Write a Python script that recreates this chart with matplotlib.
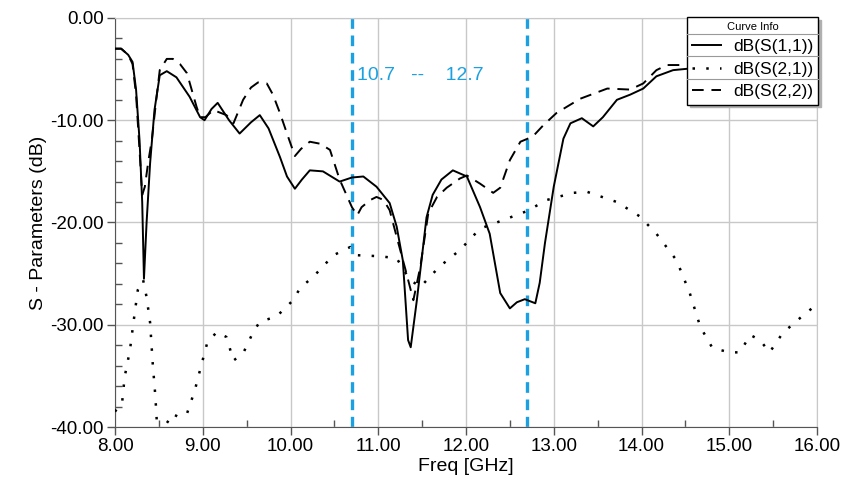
import matplotlib
matplotlib.use("Agg")
import matplotlib.pyplot as plt
from matplotlib.lines import Line2D
from matplotlib.ticker import MultipleLocator, FormatStrFormatter

plt.rcParams['font.family'] = ['Liberation Sans', 'DejaVu Sans']

# ---------------- data ----------------
f11 = [8.0, 8.07, 8.15, 8.2, 8.24, 8.28, 8.31, 8.33, 8.36, 8.4, 8.45, 8.51, 8.59, 8.7, 8.85,
       8.97, 9.02, 9.1, 9.17, 9.3, 9.42, 9.55, 9.65, 9.75, 9.88, 9.96, 10.05, 10.13, 10.22,
       10.37, 10.56, 10.7, 10.83, 10.98, 11.13, 11.21, 11.28, 11.34, 11.37, 11.44, 11.55,
       11.62, 11.72, 11.85, 12.01, 12.16, 12.27, 12.39, 12.5, 12.58, 12.67, 12.79, 12.84,
       12.9, 13.0, 13.11, 13.19, 13.32, 13.45, 13.56, 13.72, 13.87, 14.02, 14.17, 14.36,
       14.6, 15.0, 15.5, 16.0]
s11 = [-3.0, -3.0, -3.6, -4.3, -7.0, -12.0, -18.0, -25.5, -20.0, -14.2, -9.0, -5.6, -5.2,
       -5.8, -7.7, -9.7, -10.0, -8.9, -8.3, -10.0, -11.3, -10.2, -9.5, -10.8, -13.6, -15.5,
       -16.7, -15.8, -14.9, -15.0, -16.0, -15.6, -15.5, -16.5, -18.1, -20.4, -23.7, -31.5,
       -32.2, -27.6, -19.5, -17.3, -15.8, -14.9, -15.5, -18.5, -21.1, -26.9, -28.4, -27.8,
       -27.5, -27.9, -25.9, -22.0, -16.5, -11.8, -10.3, -9.8, -10.6, -9.7, -8.0, -7.5, -6.9,
       -5.7, -5.1, -4.9, -4.6, -4.3, -4.0]

f21 = [8.0, 8.04, 8.08, 8.11, 8.17, 8.21, 8.26, 8.32, 8.36, 8.40, 8.43, 8.46, 8.48, 8.52,
       8.6, 8.65, 8.72, 8.82, 8.91, 8.97, 9.05, 9.16, 9.27, 9.35, 9.46, 9.57, 9.65, 9.84,
       10.03, 10.11, 10.26, 10.49, 10.68, 10.76, 11.02, 11.21, 11.36, 11.48, 11.70, 11.93,
       12.16, 12.35, 12.69, 12.92, 13.22, 13.38, 13.72, 13.98, 14.17, 14.40, 14.55, 14.67,
       14.81, 15.01, 15.12, 15.24, 15.35, 15.46, 15.61, 15.84, 16.0]
s21 = [-38.5, -38.0, -37.7, -35.1, -32.5, -29.8, -26.6, -25.6, -27.3, -29.8, -33.8, -37.0,
       -40.0, -40.5, -39.5, -38.7, -39.0, -38.7, -36.4, -34.4, -31.8, -30.7, -31.2, -33.5,
       -32.8, -30.8, -29.7, -29.2, -27.6, -26.4, -25.3, -23.2, -22.4, -23.2, -23.3, -23.5,
       -25.6, -26.3, -24.3, -22.7, -20.6, -20.0, -18.9, -17.8, -17.1, -17.0, -18.0, -19.4,
       -21.1, -23.7, -26.9, -30.2, -32.3, -32.7, -32.7, -31.0, -31.5, -32.7, -30.8, -29.1,
       -28.0]

f22 = [8.0, 8.07, 8.15, 8.2, 8.24, 8.28, 8.31, 8.34, 8.38, 8.42, 8.47, 8.51, 8.59, 8.66,
       8.74, 8.82, 8.93, 8.97, 9.03, 9.12, 9.27, 9.35, 9.46, 9.55, 9.63, 9.73, 9.8, 9.88,
       9.96, 10.05, 10.12, 10.22, 10.34, 10.45, 10.56, 10.70, 10.76, 10.81, 10.91, 10.98,
       11.06, 11.13, 11.21, 11.31, 11.40, 11.48, 11.57, 11.67, 11.78, 11.93, 12.01, 12.16,
       12.31, 12.39, 12.50, 12.62, 12.76, 12.88, 13.03, 13.30, 13.61, 13.87, 14.02, 14.17,
       14.29, 14.52, 15.0, 15.5, 16.0]
s22 = [-3.0, -3.0, -3.6, -4.5, -7.5, -13.0, -17.3, -16.5, -14.0, -11.9, -8.0, -5.1, -4.0,
       -4.0, -4.5, -5.4, -8.7, -9.7, -9.7, -9.0, -9.5, -10.3, -8.0, -6.8, -6.3, -6.4, -7.5,
       -9.3, -11.3, -13.5, -12.8, -12.1, -12.3, -12.9, -15.8, -18.5, -19.3, -18.5, -17.8,
       -17.5, -17.8, -18.8, -21.4, -24.6, -27.6, -24.3, -19.1, -17.5, -16.6, -15.7, -15.4,
       -16.2, -17.1, -16.6, -13.9, -12.1, -11.6, -10.5, -9.3, -7.9, -6.9, -7.0, -6.4, -5.1,
       -4.6, -4.6, -4.4, -4.2, -4.0]

band = [10.7, 12.7]
band_label = "10.7   --    12.7"
labels = ["dB(S(1,1))", "dB(S(2,1))", "dB(S(2,2))"]
xticks = [8, 9, 10, 11, 12, 13, 14, 15, 16]
yticks = [0, -10, -20, -30, -40]

# ---------------- figure ----------------
W, H = 851, 486
fig = plt.figure(figsize=(W / 100, H / 100), dpi=100)
ax = fig.add_axes([115 / W, 1 - 427 / H, (817 - 115) / W, (427 - 18) / H])

blue = '#1BA1E2'
grid_c = '#c8c8c8'

ax.set_xlim(8, 16)
ax.set_ylim(-40, 0)
ax.set_xticks(xticks)
ax.set_yticks(yticks)
ax.xaxis.set_minor_locator(MultipleLocator(0.5))
ax.yaxis.set_minor_locator(MultipleLocator(2))
ax.xaxis.set_major_formatter(FormatStrFormatter('%.2f'))
ax.yaxis.set_major_formatter(FormatStrFormatter('%.2f'))
ax.grid(True, which='major', color=grid_c, lw=1.0, zorder=0)
ax.tick_params(which='major', direction='out', length=6, width=1, color='#555555',
               labelsize=13.5, pad=2)
ax.tick_params(which='minor', direction='in', length=5, width=1, color='#555555')
for s in ['left', 'bottom']:
    ax.spines[s].set_color('#555555')
for s in ['top', 'right']:
    ax.spines[s].set_color(grid_c)

for xb in band:
    ax.axvline(xb, color=blue, lw=2.4, dashes=(3.2, 2.0), zorder=1)
ax.text(10.76, -5.6, band_label, color=blue, fontsize=14, va='center', ha='left')

h1, = ax.plot(f11, s11, color='black', lw=1.4, label=labels[0], zorder=3)
h2, = ax.plot(f21, s21, color='black', lw=1.8, ls=(0, (1, 4.5)), label=labels[1], zorder=3)
h3, = ax.plot(f22, s22, color='black', lw=1.4, ls=(0, (6, 4)), label=labels[2], zorder=3)

ax.set_xlabel('Freq [GHz]', fontsize=14, labelpad=2)
ax.set_ylabel('S - Parameters (dB)', fontsize=14, labelpad=2)

leg = ax.legend(handles=[h1, h2, h3], title='Curve Info', loc='upper right',
                bbox_to_anchor=(1.002, 1.003), fontsize=12.5, frameon=True,
                fancybox=False, shadow={'color': '#b0b0b0', 'alpha': 1},
                edgecolor='black', framealpha=1, borderpad=0.3, labelspacing=0.42,
                handlelength=1.65, handletextpad=0.7, borderaxespad=0,
                markerfirst=True, alignment='center')
leg.get_title().set_fontsize(8)
leg.get_frame().set_linewidth(1.0)
leg.set_zorder(10)

# separator lines between legend rows
fig.canvas.draw()
r = fig.canvas.get_renderer()
lb = leg.get_window_extent(r)
tb = leg.get_title().get_window_extent(r)
texts = leg.get_texts()
ys = [tb.y0 - 2]
for t in texts[:-1]:
    e = t.get_window_extent(r)
    ys.append(e.y0 - 2)
inv = fig.transFigure.inverted()
for yy in ys:
    (x0, y0f) = inv.transform((lb.x0, yy))
    (x1, _) = inv.transform((lb.x1, yy))
    fig.add_artist(Line2D([x0, x1], [y0f, y0f], color='#999999', lw=0.8, zorder=20))

fig.savefig('out.png', dpi=100)
